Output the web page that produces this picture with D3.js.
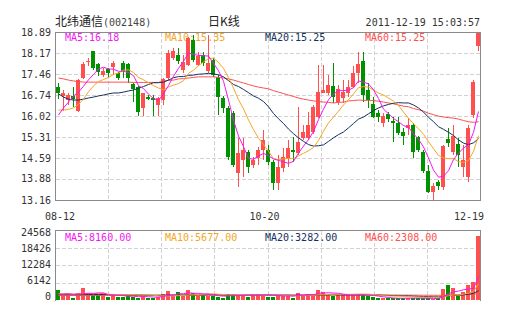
<!DOCTYPE html>
<html>
<head>
<meta charset="utf-8">
<script src="https://cdn.jsdelivr.net/npm/d3@7"></script>
<style>
  body { margin: 0; background: #fff; }
  svg { display: block; }
</style>
</head>
<body>
<div id="chart"></div>
<script>
// daily K line, 2011-08-12 .. 2011-12-19
const openP = [17.02,16.72,16.57,16.72,16.20,17.32,17.85,18.23,17.80,17.42,
  17.63,17.70,17.49,17.83,17.80,17.12,17.01,16.30,16.67,16.65,
  16.40,16.57,17.32,18.00,18.11,17.59,17.77,18.63,17.77,18.11,
  17.56,17.93,17.37,16.64,16.30,16.13,14.08,14.52,14.80,14.35,
  14.59,14.86,14.86,14.46,13.74,14.25,14.59,14.85,14.76,15.28,
  15.28,15.48,15.99,16.81,16.81,17.05,16.50,16.64,16.81,17.01,
  17.49,17.90,16.91,16.43,16.13,15.79,16.09,15.85,15.79,15.48,
  15.62,15.72,15.31,14.80,14.15,13.43,13.77,13.60,15.24,14.80,
  15.07,14.28,13.94,16.06,18.41];
const highP = [17.15,16.91,16.81,17.01,17.29,17.87,18.00,18.24,17.83,17.66,
  17.66,17.90,17.53,17.90,17.83,17.15,17.05,16.81,16.74,16.74,
  16.67,17.32,18.28,18.34,18.34,18.11,18.72,18.79,18.21,18.21,
  18.80,18.00,17.42,16.71,16.37,16.20,15.28,15.28,14.86,14.63,
  14.97,15.55,15.04,14.52,14.70,14.93,15.21,15.31,16.33,15.72,
  16.16,16.40,17.76,17.76,17.42,17.83,17.08,17.25,17.25,17.73,
  18.21,18.21,17.15,16.67,16.23,16.13,16.16,15.99,15.99,15.62,
  15.96,15.79,15.34,14.86,14.35,13.74,13.84,15.04,15.62,15.72,
  15.28,15.04,15.72,17.25,18.89];
const lowP = [16.60,16.20,16.40,16.33,16.16,17.29,17.73,17.59,17.39,17.36,
  17.36,17.42,17.25,17.32,17.15,16.50,16.02,16.02,16.57,16.02,
  16.02,16.40,17.25,17.93,17.80,17.49,17.73,17.87,17.73,17.73,
  17.49,17.36,16.06,16.13,14.52,14.28,13.60,13.94,14.08,14.25,
  14.35,14.52,14.35,13.50,13.50,14.11,14.28,14.46,14.70,15.21,
  15.21,15.41,15.96,16.81,16.74,16.47,16.40,16.47,16.67,16.98,
  17.15,16.50,16.30,15.96,15.82,15.65,15.82,15.14,15.38,15.04,
  15.38,14.59,14.80,14.08,13.40,13.16,13.50,13.50,14.97,14.70,
  14.28,13.94,13.77,15.96,18.24];
const closeP = [16.80,16.82,16.74,16.59,17.25,17.80,17.90,17.66,17.54,17.56,
  17.50,17.83,17.32,17.56,17.32,16.95,16.16,16.81,16.60,16.57,
  16.64,17.29,18.18,18.24,17.89,17.87,18.69,17.95,18.07,17.83,
  17.83,17.42,16.68,16.30,14.63,14.35,14.76,14.86,14.28,14.52,
  14.86,15.21,14.46,13.74,14.28,14.63,14.93,14.81,15.14,15.48,
  15.72,16.33,16.84,16.91,17.08,16.67,16.95,16.84,17.01,17.49,
  17.80,16.74,16.57,15.99,15.99,16.02,15.92,15.79,15.45,15.34,
  15.72,14.80,14.86,14.15,13.43,13.64,13.64,15.00,15.10,15.34,
  14.70,14.52,15.61,17.17,18.89];

const ma5 = [16.06,16.30,16.50,16.71,16.84,17.04,17.26,17.44,17.63,17.69,
  17.63,17.62,17.55,17.55,17.51,17.40,17.06,16.96,16.77,16.62,
  16.56,16.78,17.06,17.38,17.65,17.89,18.17,18.13,18.09,18.08,
  18.07,17.82,17.57,17.21,16.57,15.88,15.34,14.98,14.58,14.55,
  14.66,14.75,14.67,14.56,14.51,14.46,14.41,14.48,14.76,15.00,
  15.22,15.50,15.90,16.26,16.58,16.77,16.89,16.89,16.91,16.99,
  17.22,17.18,17.12,16.92,16.62,16.26,16.10,15.94,15.83,15.70,
  15.64,15.42,15.23,14.97,14.59,14.18,13.94,13.97,14.16,14.54,
  14.76,14.93,15.05,15.47,16.18];
const ma10 = [16.23,16.23,16.25,16.30,16.42,16.60,16.85,17.05,17.20,17.27,
  17.34,17.44,17.49,17.59,17.60,17.51,17.34,17.26,17.16,17.06,
  16.98,16.92,17.01,17.08,17.13,17.23,17.48,17.59,17.74,17.87,
  17.98,18.00,17.85,17.65,17.33,16.98,16.58,16.27,15.89,15.56,
  15.27,15.05,14.82,14.57,14.53,14.56,14.58,14.57,14.66,14.75,
  14.84,14.95,15.19,15.51,15.79,15.99,16.19,16.40,16.58,16.78,
  16.99,17.03,17.01,16.91,16.81,16.74,16.64,16.53,16.38,16.16,
  15.95,15.76,15.59,15.40,15.15,14.91,14.68,14.60,14.57,14.57,
  14.47,14.44,14.51,14.82,15.35];
const ma20 = [16.78,16.67,16.60,16.57,16.57,16.60,16.64,16.67,16.71,16.74,
  16.78,16.81,16.81,16.84,16.88,16.91,16.97,17.03,17.10,17.16,
  17.16,17.18,17.25,17.33,17.37,17.37,17.41,17.42,17.45,17.46,
  17.48,17.46,17.43,17.36,17.23,17.10,17.03,16.93,16.82,16.71,
  16.63,16.52,16.34,16.11,15.93,15.77,15.58,15.42,15.28,15.16,
  15.05,15.00,15.01,15.04,15.16,15.28,15.39,15.48,15.62,15.77,
  15.92,15.99,16.10,16.21,16.30,16.37,16.42,16.46,16.48,16.47,
  16.47,16.40,16.30,16.16,15.98,15.83,15.66,15.57,15.47,15.36,
  15.21,15.10,15.05,15.11,15.25];
const ma60 = [17.32,17.29,17.25,17.22,17.20,17.18,17.18,17.18,17.18,17.18,
  17.18,17.18,17.18,17.18,17.18,17.17,17.17,17.17,17.17,17.17,
  17.17,17.22,17.24,17.25,17.29,17.30,17.32,17.34,17.36,17.36,
  17.36,17.36,17.34,17.32,17.29,17.25,17.20,17.15,17.10,17.05,
  17.01,16.98,16.95,16.89,16.84,16.79,16.74,16.69,16.64,16.60,
  16.57,16.54,16.52,16.50,16.49,16.47,16.49,16.50,16.54,16.55,
  16.57,16.56,16.56,16.55,16.53,16.50,16.47,16.44,16.40,16.36,
  16.34,16.28,16.24,16.19,16.12,16.07,16.02,15.99,15.97,15.95,
  15.92,15.87,15.83,15.81,15.83];

const volume = [3500,1750,2000,800,2350,4350,2350,1750,1750,2350,
  1150,1750,1150,1150,1400,1150,800,1500,800,800,
  1150,2000,3150,1750,2700,1500,3500,2350,1500,1750,
  1500,1500,1150,800,2100,2100,1500,1500,1150,2000,
  2100,1750,1150,1150,1500,1500,1750,800,2550,1500,
  2100,2100,3500,2900,2100,1500,1750,1750,1750,1750,
  1750,1750,1500,1150,600,600,600,600,800,600,
  800,600,600,600,600,350,600,3850,5250,4350,
  1500,2900,5250,6450,22450];
const vma5 = [2000,2100,2200,2000,2080,2250,2360,2320,2500,2500,
  1870,1750,1640,1520,1330,1330,1150,1220,1150,1030,
  1030,1260,1590,1780,2150,2220,2530,2360,2320,2130,
  2130,1730,1500,1360,1430,1540,1540,1610,1690,1660,
  1660,1710,1640,1640,1540,1430,1430,1360,1640,1640,
  1750,1820,2360,2430,2550,2430,2360,2010,1780,1710,
  1750,1750,1710,1590,1360,1120,890,700,630,630,
  680,680,680,630,630,540,540,1190,2130,2880,
  3110,3580,3860,4100,8160];
const vma10 = [2200,2200,2150,2100,2150,2200,2250,2250,2300,2300,
  1980,1940,1880,1840,1900,1920,1750,1770,1730,1680,
  1450,1450,1440,1470,1520,1560,1780,1860,1950,2030,
  2120,2170,2050,1900,1820,1850,1780,1760,1790,1770,
  1780,1680,1610,1660,1680,1620,1550,1470,1550,1530,
  1590,1630,1810,1850,1960,2030,1980,2020,2000,2020,
  2100,2100,2030,1920,1710,1530,1420,1390,1370,1310,
  1220,1120,1070,1010,940,860,870,1130,1470,1710,
  1760,2040,2370,2960,5677];
const vma20 = [1900,1900,1900,1880,1880,1900,1920,1920,1920,1930,
  1900,1880,1850,1830,1830,1820,1780,1750,1700,1680,
  1700,1700,1750,1760,1770,1780,1800,1820,1840,1850,
  1870,1880,1820,1760,1760,1780,1730,1740,1760,1740,
  1760,1750,1740,1720,1700,1700,1700,1660,1700,1710,
  1700,1690,1730,1740,1820,1830,1790,1770,1770,1780,
  1780,1800,1790,1800,1740,1660,1590,1550,1520,1470,
  1440,1350,1290,1230,1160,1100,1080,1220,1440,1600,
  1650,1800,2030,2330,3282];
const vma60 = [1600,1600,1600,1590,1590,1600,1600,1600,1610,1610,
  1600,1600,1590,1590,1590,1580,1570,1570,1560,1550,
  1550,1560,1580,1580,1600,1600,1620,1630,1640,1650,
  1660,1670,1670,1670,1680,1690,1690,1700,1700,1700,
  1710,1710,1710,1710,1710,1710,1710,1700,1710,1710,
  1720,1730,1750,1770,1780,1790,1800,1800,1810,1810,
  1810,1810,1800,1790,1780,1760,1750,1740,1730,1720,
  1710,1700,1690,1680,1660,1650,1640,1690,1760,1810,
  1830,1860,1930,2020,2308];

const priceTicks = ["18.89","18.17","17.46","16.74","16.02","15.31","14.59","13.88","13.16"];
const volTicks = ["24568","18426","12284","6142","0"];
const dateLabels = ["08-12","10-20","12-19"];
const maLabels = ["MA5:16.18","MA10:15.35","MA20:15.25","MA60:15.25"];
const volMaLabels = ["MA5:8160.00","MA10:5677.00","MA20:3282.00","MA60:2308.00"];

// styles
const RED = "#ff4f4f", GREEN = "#009100", GRID = "#d2d2d2", FRAME = "#8a8a8a", TXT = "#333";
const maColors = ["#f516f5", "#f5a623", "#11325e", "#ff4f4f"];
const MONO = "'DejaVu Sans Mono', monospace";
const CJK = "'Noto Sans CJK SC', sans-serif";

const svg = d3.select("#chart").append("svg")
  .attr("width", 505)
  .attr("height", 330)
  .style("font-family", MONO);

const n = closeP.length;
const x = d3.scaleBand().domain(d3.range(n)).range([55, 480]);
const y = d3.scaleLinear().domain([13.16, 18.89]).range([200, 32]);
const yv = d3.scaleLinear().domain([0, 24568]).range([300, 230]);
const yvLabel = d3.scaleLinear().domain([0, 24568]).range([296.5, 232.5]);
const col = d3.scaleLinear().domain([0, 8]).range([55, 480]);
const px = v => Math.round(v) + 0.5;

// header
const title = svg.append("text").attr("x", 55).attr("y", 26).attr("fill", "#222");
title.append("tspan").style("font-family", CJK).style("font-size", "12px").text("北纬通信");
title.append("tspan").style("font-size", "10px").attr("fill", "#444").text("(002148)");
svg.append("text").attr("x", 208).attr("y", 26).style("font-family", CJK)
  .style("font-size", "12px").attr("fill", "#222").text("日K线");
svg.append("text").attr("x", 480).attr("y", 26).attr("text-anchor", "end")
  .style("font-size", "10px").attr("fill", TXT).text("2011-12-19 15:03:57");

// grid - price panel
const grid = svg.append("g").attr("stroke", GRID).attr("stroke-dasharray", "4,2")
  .attr("shape-rendering", "crispEdges");
priceTicks.slice(1, -1).forEach(t => {
  grid.append("line").attr("x1", 56).attr("x2", 480).attr("y1", px(y(+t))).attr("y2", px(y(+t)));
});
d3.range(1, 8).forEach(k => {
  grid.append("line").attr("x1", px(col(k))).attr("x2", px(col(k))).attr("y1", 33).attr("y2", 200);
  grid.append("line").attr("x1", px(col(k))).attr("x2", px(col(k))).attr("y1", 231).attr("y2", 300);
});
volTicks.slice(1, -1).forEach(t => {
  grid.append("line").attr("x1", 56).attr("x2", 480).attr("y1", px(yv(+t))).attr("y2", px(yv(+t)));
});

// axis labels
svg.append("g").selectAll("text").data(priceTicks).join("text")
  .attr("x", 51).attr("y", d => y(+d) + 3.6).attr("text-anchor", "end")
  .style("font-size", "10px").attr("fill", TXT).text(d => d);
svg.append("g").selectAll("text").data(volTicks).join("text")
  .attr("x", 51).attr("y", d => yvLabel(+d) + 3.6).attr("text-anchor", "end")
  .style("font-size", "10px").attr("fill", TXT).text(d => d);
svg.append("text").attr("x", 45).attr("y", 220).style("font-size", "10px").attr("fill", TXT).text(dateLabels[0]);
svg.append("text").attr("x", 264.5).attr("y", 220).attr("text-anchor", "middle").style("font-size", "10px").attr("fill", TXT).text(dateLabels[1]);
svg.append("text").attr("x", 484).attr("y", 220).attr("text-anchor", "end").style("font-size", "10px").attr("fill", TXT).text(dateLabels[2]);

// legends
maLabels.forEach((t, k) => {
  svg.append("text").attr("x", 65 + k * 100).attr("y", 40.5).style("font-size", "10px")
    .attr("fill", maColors[k]).text(t);
});
volMaLabels.forEach((t, k) => {
  svg.append("text").attr("x", 65 + k * 100).attr("y", 240.5).style("font-size", "10px")
    .attr("fill", maColors[k]).text(t);
});

// candles
const up = i => closeP[i] >= openP[i];
const candles = svg.append("g").attr("shape-rendering", "crispEdges");
d3.range(n).forEach(i => {
  const c = up(i) ? RED : GREEN;
  const hi = Math.round(y(highP[i])), lo = Math.round(y(lowP[i]));
  candles.append("rect").attr("x", x(i) + 3).attr("width", 1)
    .attr("y", hi).attr("height", Math.max(1, lo - hi)).attr("fill", c);
  const top = Math.round(y(Math.max(openP[i], closeP[i])));
  const bot = Math.round(y(Math.min(openP[i], closeP[i])));
  candles.append("rect").attr("x", x(i) + 1).attr("width", 4)
    .attr("y", top).attr("height", Math.max(1, bot - top)).attr("fill", c);
});

// volume bars
svg.append("g").attr("shape-rendering", "crispEdges").selectAll("rect").data(volume).join("rect")
  .attr("x", (d, i) => x(i) + 1).attr("width", 4)
  .attr("y", d => Math.round(yv(d))).attr("height", d => 300 - Math.round(yv(d)))
  .attr("fill", (d, i) => up(i) ? RED : GREEN);

// moving average lines
const priceLine = d3.line().x((d, i) => x(i) + 3.5).y(d => y(d));
[ma60, ma20, ma10, ma5].forEach((s, k) => {
  svg.append("path").datum(s).attr("d", priceLine).attr("fill", "none")
    .attr("stroke", maColors[3 - k]).attr("stroke-width", 1);
});
const volLine = d3.line().x((d, i) => x(i) + 3.5).y(d => yv(d));
[vma60, vma20, vma10, vma5].forEach((s, k) => {
  svg.append("path").datum(s).attr("d", volLine).attr("fill", "none")
    .attr("stroke", maColors[3 - k]).attr("stroke-width", 1);
});

// frames
const fr = svg.append("g").attr("stroke", FRAME).attr("fill", "none").attr("shape-rendering", "crispEdges");
fr.append("rect").attr("x", 55.5).attr("y", 32.5).attr("width", 425).attr("height", 168);
fr.append("path").attr("d", "M55.5,301V230.5H480.5V301");
</script>
</body>
</html>
